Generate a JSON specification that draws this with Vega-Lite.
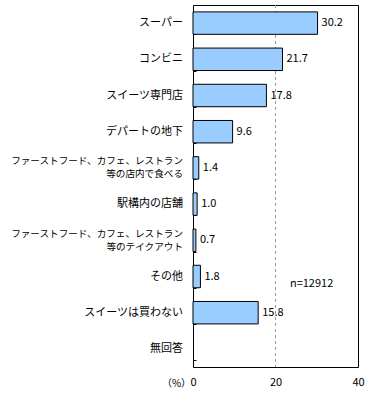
{
  "$schema": "https://vega.github.io/schema/vega-lite/v6.json",
  "width": 165,
  "height": 362,
  "autosize": {"type": "none"},
  "padding": {"left": 193, "top": 5, "right": 10, "bottom": 30},
  "background": "white",
  "config": {
    "view": {"stroke": "black", "strokeWidth": 1},
    "font": "Noto Sans CJK JP"
  },
  "data": {
    "values": [
      {"category": "スーパー", "value": 30.2},
      {"category": "コンビニ", "value": 21.7},
      {"category": "スイーツ専門店", "value": 17.8},
      {"category": "デパートの地下", "value": 9.6},
      {"category": "ファーストフード、カフェ、レストラン|等の店内で食べる　　　　　", "value": 1.4},
      {"category": "駅構内の店舗", "value": 1.0},
      {"category": "ファーストフード、カフェ、レストラン|等のテイクアウト　　　　　", "value": 0.7},
      {"category": "その他", "value": 1.8, "note": "n=12912"},
      {"category": "スイーツは買わない", "value": 15.8},
      {"category": "無回答", "value": null}
    ]
  },
  "layer": [
    {
      "mark": {"type": "rule", "color": "#999999", "strokeDash": [3, 3], "strokeWidth": 1},
      "encoding": {"x": {"datum": 20}}
    },
    {
      "mark": {"type": "bar", "fill": "#99CCFF", "stroke": "black", "strokeWidth": 1},
      "encoding": {
        "y": {
          "field": "category",
          "type": "nominal",
          "sort": null,
          "scale": {
            "domain": ["スーパー", "コンビニ", "スイーツ専門店", "デパートの地下", "ファーストフード、カフェ、レストラン|等の店内で食べる　　　　　", "駅構内の店舗", "ファーストフード、カフェ、レストラン|等のテイクアウト　　　　　", "その他", "スイーツは買わない", "無回答"],
            "paddingInner": 0.38,
            "paddingOuter": 0.19
          },
          "axis": {
            "title": null,
            "domain": false,
            "labels": false,
            "tickBand": "extent",
            "tickSize": -3,
            "tickColor": "black"
          }
        },
        "x": {
          "field": "value",
          "type": "quantitative",
          "scale": {"domain": [0, 40], "nice": false},
          "axis": {
            "values": [0, 20, 40],
            "ticks": false,
            "domain": false,
            "grid": false,
            "labelFlush": false,
            "labelFontSize": 11,
            "labelPadding": 9,
            "labelColor": "black",
            "title": "（%）",
            "titleX": -17,
            "titleY": 16,
            "titleAlign": "center",
            "titleBaseline": "middle",
            "titleFontWeight": "normal",
            "titleFontSize": 10,
            "titleColor": "black"
          }
        }
      }
    },
    {
      "mark": {"type": "text", "align": "left", "baseline": "middle", "dx": 4, "fontSize": 11, "color": "black"},
      "encoding": {
        "y": {"field": "category", "type": "nominal", "sort": null},
        "x": {"field": "value", "type": "quantitative"},
        "text": {"field": "value", "format": ".1f"}
      }
    },
    {
      "transform": [{"filter": "indexof(datum.category, '|') < 0"}],
      "mark": {"type": "text", "align": "right", "baseline": "middle", "dx": -10, "fontSize": 11, "color": "black"},
      "encoding": {
        "y": {"field": "category", "type": "nominal", "sort": null},
        "x": {"datum": 0},
        "text": {"field": "category"}
      }
    },
    {
      "transform": [{"filter": "indexof(datum.category, '|') >= 0"}],
      "mark": {"type": "text", "align": "right", "baseline": "middle", "dx": -10, "dy": -6.5, "fontSize": 9.6, "lineHeight": 13, "lineBreak": "|", "color": "black"},
      "encoding": {
        "y": {"field": "category", "type": "nominal", "sort": null},
        "x": {"datum": 0},
        "text": {"field": "category"}
      }
    },
    {
      "transform": [{"filter": "datum.note"}],
      "mark": {"type": "text", "align": "left", "baseline": "middle", "dy": 7, "fontSize": 11, "color": "black"},
      "encoding": {
        "y": {"field": "category", "type": "nominal", "sort": null},
        "x": {"datum": 23.5},
        "text": {"field": "note"}
      }
    }
  ]
}
